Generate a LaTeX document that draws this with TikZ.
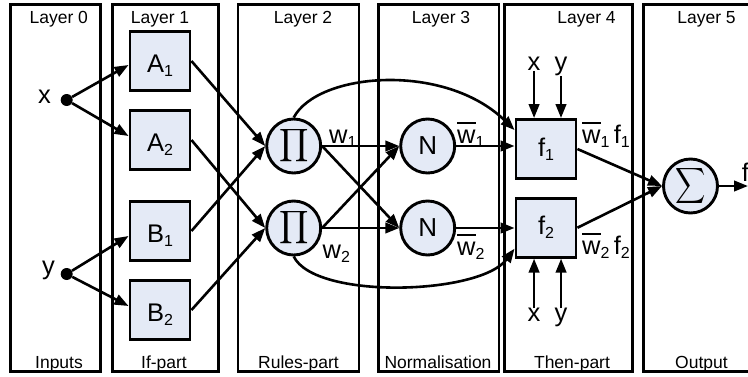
\documentclass[tikz,border=0pt]{standalone}
\usepackage{fontspec}
\setmainfont{Liberation Sans}
\usepackage{graphicx}
\usetikzlibrary{arrows.meta}
\definecolor{nodefill}{HTML}{E4EAF6}
% lowered index digit
\newcommand\sbs[1]{\raisebox{-4pt}{\fontsize{16}{16}\selectfont #1}}
% bar set high over a letter
\newcommand\ovl[1]{\setbox0\hbox{#1}\rlap{\rule[19pt]{\wd0}{2.2pt}}\box0}
\begin{document}
\begin{tikzpicture}[x=1pt,y=-1pt,
  lay/.style={draw, line width=2.9pt, inner sep=0pt, minimum height=367pt},
  laytxt/.style={font=\fontsize{17.5}{20}\selectfont, anchor=base, inner sep=0pt},
  boxnode/.style={draw, line width=2.9pt, fill=nodefill, minimum width=60pt,
    minimum height=59pt, inner sep=0pt, font=\fontsize{25.5}{28}\selectfont},
  abox/.style={boxnode, text height=22pt, text depth=0pt},
  opnode/.style={draw, circle, line width=2.9pt, fill=nodefill, minimum size=54pt,
    inner sep=0pt, font=\fontsize{26}{28}\selectfont},
  dotnode/.style={circle, fill, minimum size=12pt, inner sep=0pt},
  lbl/.style={inner sep=0pt, anchor=base west, font=\fontsize{25.5}{28}\selectfont},
  conn/.style={line width=2.6pt, -{Triangle[length=14pt,width=10.5pt]}}
]
\useasboundingbox (0,0) rectangle (748,376);
\clip (0,0) rectangle (748,376);

% layer frames
\node[lay, minimum width=90pt]    (L0) at (55.6,188) {};
\node[lay, minimum width=106.4pt] (L1) at (165.5,188) {};
\node[lay, minimum width=121pt]   (L2) at (298.5,188) {};
\node[lay, minimum width=120.3pt] (L3) at (438.8,188) {};
\node[lay, minimum width=128pt]   (L4) at (568.7,188) {};
\node[lay, minimum width=128pt]   (L5) at (707.3,188) {};

% layer titles
\node[laytxt] (t0) at (58.8,23) {Layer 0};
\node[laytxt] (t1) at (160,23) {Layer 1};
\node[laytxt] (t2) at (303,23) {Layer 2};
\node[laytxt] (t3) at (441,23) {Layer 3};
\node[laytxt] (t4) at (586.5,23) {Layer 4};
\node[laytxt] (t5) at (706.5,23) {Layer 5};
\node[laytxt] (b0) at (59,368) {Inputs};
\node[laytxt] (b1) at (164,368) {If-part};
\node[laytxt] (b2) at (298.5,368) {Rules-part};
\node[laytxt] (b3) at (438,368) {Normalisation};
\node[laytxt] (b4) at (572,368) {Then-part};
\node[laytxt] (b5) at (701.5,368) {Output};

% inputs
\node[dotnode] (xd) at (66.7,100) {};
\node[dotnode] (yd) at (66.7,274) {};
\node[lbl] (xl) at (38,103) {x};
\node[lbl] (yl) at (42,274) {y};

% membership functions
\node[abox] (A1) at (160,61) {A\sbs{1}};
\node[abox] (A2) at (160,140) {A\sbs{2}};
\node[abox] (B1) at (160,231) {B\sbs{1}};
\node[abox] (B2) at (160,310) {B\sbs{2}};

% rules and normalisation
\node[opnode] (P1) at (293.7,146) {\scalebox{2.3}{$\displaystyle\prod$}};
\node[opnode] (P2) at (293.7,228) {\scalebox{2.3}{$\displaystyle\prod$}};
\node[opnode] (N1) at (427.7,146) {N};
\node[opnode] (N2) at (427.7,228) {N};

% consequents and sum
\node[boxnode] (f1) at (546,149) {f\sbs{1}};
\node[boxnode] (f2) at (546,227.7) {f\sbs{2}};
\node[opnode] (S) at (690.5,186) {\scalebox{2.1}[2.5]{$\displaystyle\sum$}};

% labels
\node[lbl] (w1) at (329,143) {w\sbs{1}};
\node[lbl] (w2) at (322.5,258) {w\sbs{2}};
\node[lbl] (wb1) at (457,143) {\ovl{w}\sbs{1}};
\node[lbl] (wb2) at (457,255) {\ovl{w}\sbs{2}};
\node[lbl] (wf1) at (582,143) {\ovl{w}\sbs{1}\,f\sbs{1}};
\node[lbl] (wf2) at (582,254) {\ovl{w}\sbs{2}\,f\sbs{2}};
\node[lbl] (xt) at (527.5,70.7) {x};
\node[lbl] (yt) at (554.5,70.7) {y};
\node[lbl] (xb) at (527.5,321.7) {x};
\node[lbl] (yb) at (554.5,321.7) {y};
\node[lbl] (fo) at (741.7,181.7) {f};
\coordinate (outp) at (748,186);

% layer 0 -> layer 1
\draw[conn] (xd) -- ([yshift=-4pt]A1.west);
\draw[conn] (xd) -- ([yshift=4pt]A2.west);
\draw[conn] (yd) -- ([yshift=-5pt]B1.west);
\draw[conn] (yd) -- ([yshift=4pt]B2.west);

% layer 1 -> layer 2
\draw[conn] (A1.east) -- (P1.west);
\draw[conn] (B1.east) -- (P1.west);
\draw[conn] (A2.east) -- (P2.west);
\draw[conn] (B2.east) -- (P2.west);

% layer 2 -> layer 3
\draw[conn] (P1.east) -- (N1.west);
\draw[conn] (P1.east) -- (N2.west);
\draw[conn] (P2.east) -- (N1.west);
\draw[conn] (P2.east) -- (N2.west);

% layer 3 -> layer 4
\draw[conn] (N1.east) -- (N1.east -| f1.west);
\draw[conn] (N2.east) -- (N2.east -| f2.west);
\draw[conn] (P1.north) .. controls (318,72) and (445,62) .. ([yshift=-12pt]f1.north west);
\draw[conn] (P2.south) .. controls (315,300) and (480,295) .. ([yshift=10pt]f2.south west);
\draw[conn] (xt.south) -- (xt.south |- f1.north);
\draw[conn] ([xshift=6.5pt]yt.south west) -- ([xshift=6.5pt]yt.south west |- f1.north);
\draw[conn] (xb.north) -- (xb.north |- f2.south);
\draw[conn] (yb.north) -- (yb.north |- f2.south);

% layer 4 -> layer 5
\draw[conn] (f1.east) -- (S.west);
\draw[conn] (f2.east) -- (S.west);
\draw[conn] (S.east) -- (outp);
\end{tikzpicture}
\end{document}
